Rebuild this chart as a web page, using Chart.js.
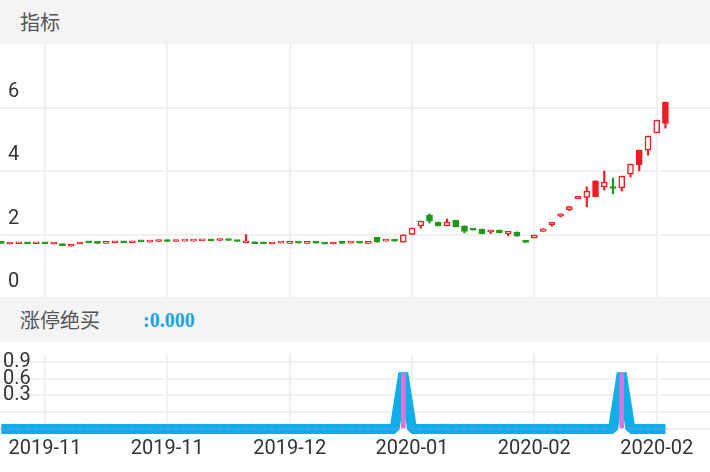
<!DOCTYPE html>
<html><head><meta charset="utf-8">
<script src="https://cdn.jsdelivr.net/npm/chart.js@4/dist/chart.umd.min.js"></script>
<style>
body{margin:0;width:710px;height:472px;overflow:hidden;background:#fff;font-family:"Noto Sans CJK SC",Roboto,sans-serif}
.hd{height:44px;background:#f4f4f4;color:#555;font-size:20px;line-height:44px;padding-left:20px;box-sizing:border-box;position:relative}
.val{position:absolute;left:143px;top:0;color:#1aa3e0;font-family:"Liberation Serif",serif;font-weight:bold;font-size:20px}
#c1w{height:254px;position:relative}
#c2w{height:130px;position:relative}
</style></head><body>
<div class="hd">指标</div>
<div id="c1w"><canvas id="c1"></canvas></div>
<div class="hd">涨停绝买<span class="val">:0.000</span></div>
<div id="c2w"><canvas id="c2"></canvas></div>
<script>
const xLabels = ["2019-11","2019-11","2019-12","2020-01","2020-02","2020-02"];
const xLabelIdx = [5,19,33,47,61,75];
const priceTicks = [0,2,4,6];
const open  = [1.74,1.70,1.71,1.74,1.71,1.73,1.70,1.70,1.63,1.70,1.77,1.75,1.72,1.74,1.78,1.74,1.78,1.76,1.78,1.82,1.78,1.79,1.79,1.80,1.84,1.81,1.84,1.81,
 1.74,1.77,1.74,1.70,1.73,1.72,1.74,1.72,1.77,1.74,1.70,1.77,1.73,1.77,1.72,1.91,1.79,1.84,1.76,2.00,2.27,2.61,2.39,2.27,2.45,2.27,2.18,2.17,2.08,2.14,2.02,2.08,1.80,1.89,2.10,2.30,2.58,2.78,3.13,3.17,3.19,3.50,3.50,3.47,3.90,4.19,4.66,5.20,5.50];
const close = [1.72,1.73,1.74,1.71,1.74,1.71,1.73,1.65,1.69,1.75,1.74,1.72,1.76,1.78,1.74,1.79,1.77,1.80,1.82,1.78,1.80,1.80,1.83,1.84,1.80,1.84,1.81,1.78,
 1.80,1.71,1.71,1.73,1.76,1.76,1.73,1.78,1.73,1.70,1.76,1.72,1.77,1.73,1.78,1.76,1.85,1.79,1.99,2.20,2.42,2.42,2.27,2.39,2.24,2.10,2.14,2.02,2.14,2.05,2.10,1.95,1.75,1.98,2.18,2.38,2.65,2.88,3.20,3.37,3.69,3.65,3.45,3.84,4.22,4.66,5.10,5.60,6.17];
const high  = [1.74,1.73,1.74,1.74,1.74,1.73,1.73,1.70,1.69,1.75,1.77,1.75,1.76,1.78,1.78,1.79,1.78,1.80,1.82,1.82,1.80,1.80,1.83,1.84,1.84,1.86,1.84,1.81,
 2.00,1.77,1.74,1.73,1.76,1.76,1.74,1.78,1.77,1.74,1.76,1.77,1.77,1.77,1.78,1.91,1.85,1.84,1.99,2.20,2.42,2.65,2.39,2.49,2.45,2.27,2.18,2.17,2.14,2.14,2.10,2.08,1.80,1.98,2.18,2.38,2.65,2.88,3.20,3.50,3.69,4.00,3.78,3.84,4.22,4.66,5.10,5.60,6.17];
const low   = [1.72,1.70,1.71,1.71,1.71,1.71,1.70,1.65,1.63,1.70,1.74,1.72,1.72,1.74,1.74,1.74,1.77,1.76,1.78,1.78,1.78,1.79,1.79,1.80,1.80,1.81,1.81,1.78,
 1.74,1.71,1.71,1.70,1.73,1.72,1.73,1.72,1.73,1.70,1.70,1.72,1.73,1.73,1.72,1.76,1.79,1.79,1.76,2.00,2.20,2.36,2.27,2.27,2.24,2.05,2.14,2.02,2.03,2.05,1.96,1.95,1.75,1.89,2.10,2.26,2.55,2.75,3.13,2.87,3.19,3.40,3.28,3.37,3.81,4.00,4.50,5.20,5.35];
const solidUp = [68,73,76];
const signal = open.map((_, i) => (i === 46 || i === 71) ? 1 : 0);
const bottomTicks = [0,0.3,0.6,0.9,1.2];
const bottomTickText = ["","","0.3","0.6","0.9"];

const RED='#ee1c25', GREEN='#1e9a1a', GRID='#f0f0f0';
const idx = open.map((_, i) => i);
const up = i => close[i] >= open[i];
const xScale = (show) => ({
  type:'linear', min:-0.15, max:81.1, offset:false, bounds:'data',
  afterBuildTicks: s => { s.ticks = xLabelIdx.map(v => ({value:v})); },
  grid:{color:GRID, lineWidth:2, drawTicks:false, offset:false}, border:{display:false},
  ticks:{display:show, autoSkip:false, maxRotation:0, padding:2, color:'#333', font:{family:'Roboto', size:20},
    callback:(v, k) => xLabels[k]},
  afterFit: s => { s.height = show ? 37 : 0; }
});
const priceLabels = {
  id:'priceLabels',
  afterDraw(chart){
    const {ctx, scales:{y}} = chart;
    ctx.save(); ctx.fillStyle='#333'; ctx.font='20px Roboto'; ctx.textBaseline='middle';
    priceTicks.forEach(v => ctx.fillText(String(v), 8, y.getPixelForValue(v) - 16));
    ctx.restore();
  }
};
new Chart(document.getElementById('c1'), {
  type:'bar',
  data:{datasets:[
    {data: idx.map(i => ({x:i, y:[low[i], high[i]]})), backgroundColor: idx.map(i => up(i) ? RED : GREEN),
     barThickness:1.5, grouped:false, order:2},
    {data: idx.map(i => ({x:i, y:[open[i], close[i]]})),
     backgroundColor: idx.map(i => up(i) ? (solidUp.includes(i) ? RED : '#fff') : GREEN),
     borderColor: idx.map(i => up(i) ? RED : GREEN), borderWidth:1.5, borderSkipped:false,
     barThickness:6, minBarLength:2, grouped:false, order:1}
  ]},
  options:{responsive:true, maintainAspectRatio:false, animation:false,
    layout:{padding:0},
    plugins:{legend:{display:false}, tooltip:{enabled:false}},
    scales:{
      x: xScale(false),
      y:{min:0, max:8, afterBuildTicks: s => { s.ticks = priceTicks.map(v => ({value:v})); },
        grid:{color:GRID, lineWidth:2, drawTicks:false}, border:{display:false},
        ticks:{display:false}, afterFit: s => { s.width = 0; }}
    }},
  plugins:[priceLabels]
});
new Chart(document.getElementById('c2'), {
  data:{datasets:[
    {type:'line', data: idx.map(i => ({x:i, y:signal[i]})), borderColor:'#10aee6', borderWidth:10,
     borderJoinStyle:'bevel', pointRadius:0, tension:0, fill:false, order:2},
    {type:'bar', data: idx.map(i => ({x:i, y:signal[i]})), backgroundColor:'#e070dc',
     barThickness:4, grouped:false, order:1}
  ]},
  options:{responsive:true, maintainAspectRatio:false, animation:false,
    layout:{padding:0},
    plugins:{legend:{display:false}, tooltip:{enabled:false}},
    scales:{
      x: xScale(true),
      y:{min:-0.108, max:1.323, afterBuildTicks: s => { s.ticks = bottomTicks.map(v => ({value:v})); },
        grid:{color:GRID, lineWidth:2, drawTicks:false}, border:{display:false},
        ticks:{mirror:true, autoSkip:false, padding:3, color:'#333', font:{family:'Roboto', size:20, lineHeight:1},
          callback:(v, k) => bottomTickText[k]},
        afterFit: s => { s.width = 0; }}
    }}
});
</script>
</body></html>
